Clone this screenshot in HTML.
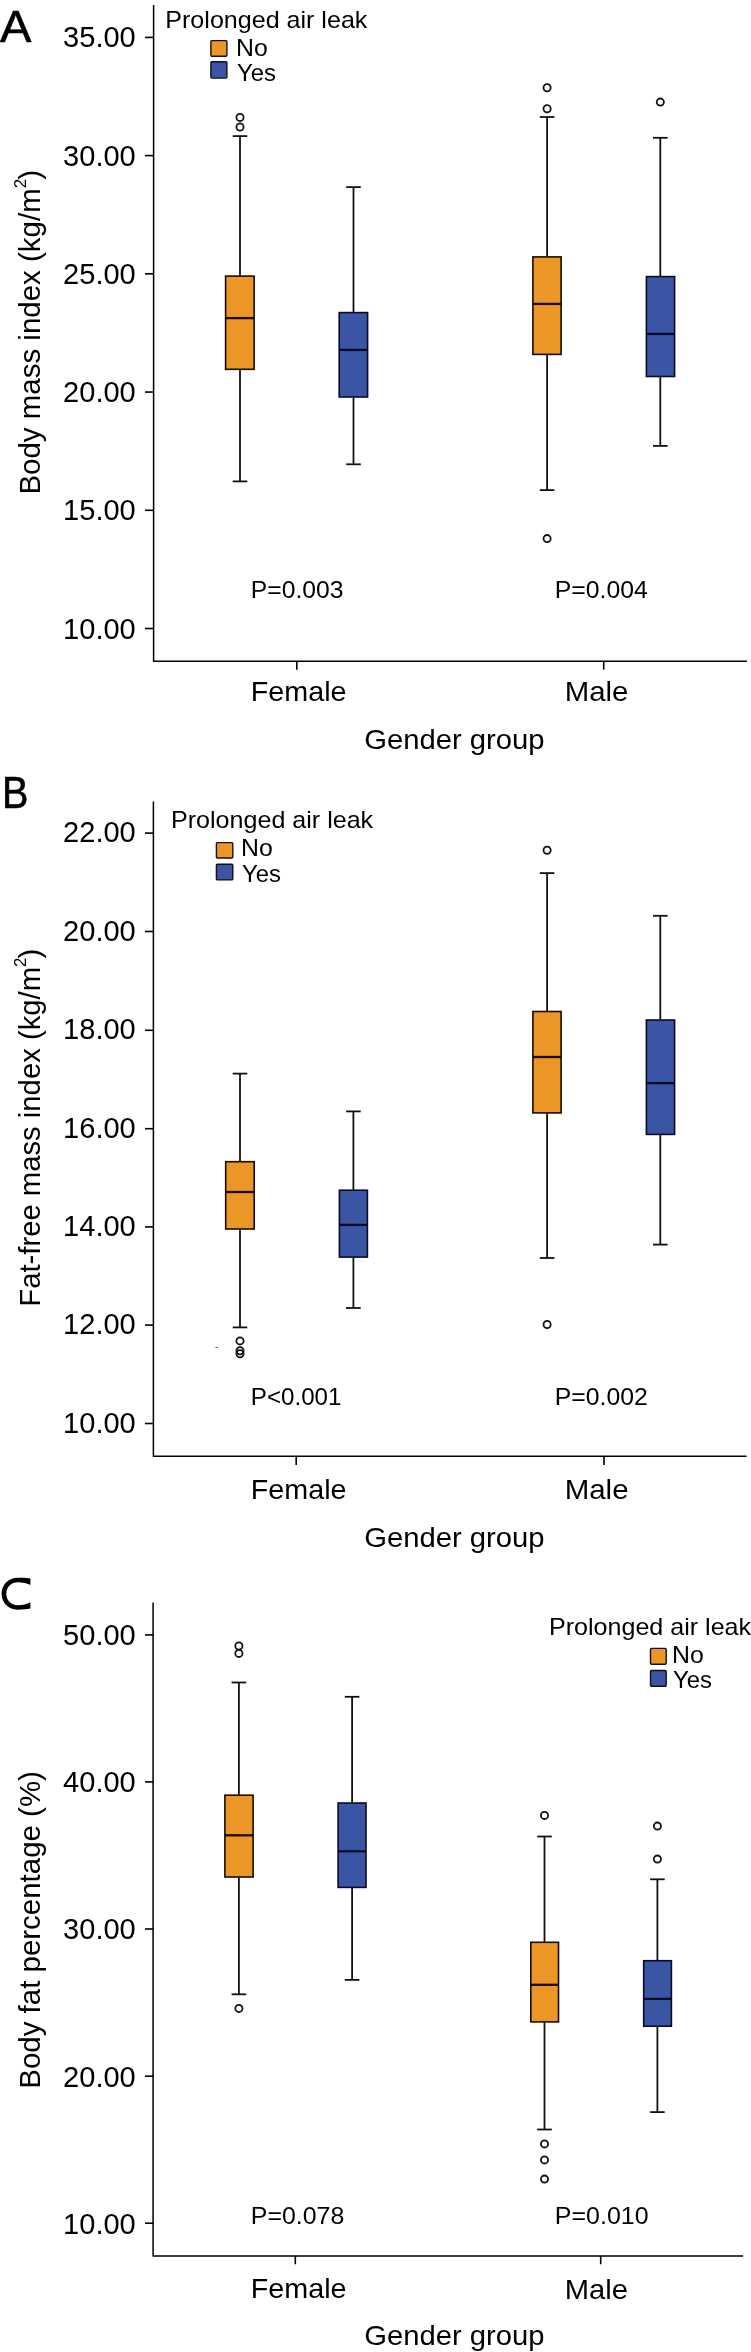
<!DOCTYPE html>
<html><head><meta charset="utf-8"><style>
html,body{margin:0;padding:0;background:#fff;}
body{width:751px;height:2352px;overflow:hidden;}
svg{display:block;will-change:transform;}
text{font-family:"Liberation Sans",sans-serif;fill:#000;}
</style></head><body>
<svg width="751" height="2352" viewBox="0 0 751 2352">
<rect width="751" height="2352" fill="#fff"/>
<polyline points="153.60,5.00 153.60,661.20 746.90,661.20" fill="none" stroke="#000" stroke-width="1.5" stroke-linejoin="round"/>
<line x1="145.00" y1="37.40" x2="153.60" y2="37.40" stroke="#000" stroke-width="1.6"/>
<line x1="145.00" y1="155.60" x2="153.60" y2="155.60" stroke="#000" stroke-width="1.6"/>
<line x1="145.00" y1="273.80" x2="153.60" y2="273.80" stroke="#000" stroke-width="1.6"/>
<line x1="145.00" y1="392.05" x2="153.60" y2="392.05" stroke="#000" stroke-width="1.6"/>
<line x1="145.00" y1="510.30" x2="153.60" y2="510.30" stroke="#000" stroke-width="1.6"/>
<line x1="145.00" y1="628.50" x2="153.60" y2="628.50" stroke="#000" stroke-width="1.6"/>
<line x1="296.80" y1="661.20" x2="296.80" y2="669.70" stroke="#000" stroke-width="1.6"/>
<line x1="603.70" y1="661.20" x2="603.70" y2="669.70" stroke="#000" stroke-width="1.6"/>
<line x1="240.00" y1="136.10" x2="240.00" y2="275.70" stroke="#111" stroke-width="1.8"/>
<line x1="240.00" y1="369.70" x2="240.00" y2="481.40" stroke="#111" stroke-width="1.8"/>
<line x1="232.70" y1="136.10" x2="247.30" y2="136.10" stroke="#111" stroke-width="1.8"/>
<line x1="232.70" y1="481.40" x2="247.30" y2="481.40" stroke="#111" stroke-width="1.8"/>
<rect x="225.60" y="276.10" width="28.50" height="93.20" fill="#EC9628" stroke="#1a0a00" stroke-width="1.6" rx="0"/>
<line x1="225.60" y1="318.10" x2="254.10" y2="318.10" stroke="#1a0a00" stroke-width="2.3"/>
<circle cx="240.00" cy="117.40" r="3.6" fill="none" stroke="#111" stroke-width="1.8"/>
<circle cx="240.00" cy="127.00" r="3.6" fill="none" stroke="#111" stroke-width="1.8"/>
<line x1="353.50" y1="187.10" x2="353.50" y2="312.20" stroke="#111" stroke-width="1.8"/>
<line x1="353.50" y1="397.40" x2="353.50" y2="464.30" stroke="#111" stroke-width="1.8"/>
<line x1="346.20" y1="187.10" x2="360.80" y2="187.10" stroke="#111" stroke-width="1.8"/>
<line x1="346.20" y1="464.30" x2="360.80" y2="464.30" stroke="#111" stroke-width="1.8"/>
<rect x="339.20" y="312.60" width="28.40" height="84.40" fill="#3A55A3" stroke="#0a0a26" stroke-width="1.6" rx="0"/>
<line x1="339.20" y1="349.90" x2="367.60" y2="349.90" stroke="#0a0a26" stroke-width="2.3"/>
<line x1="547.10" y1="117.00" x2="547.10" y2="256.50" stroke="#111" stroke-width="1.8"/>
<line x1="547.10" y1="354.80" x2="547.10" y2="490.10" stroke="#111" stroke-width="1.8"/>
<line x1="539.80" y1="117.00" x2="554.40" y2="117.00" stroke="#111" stroke-width="1.8"/>
<line x1="539.80" y1="490.10" x2="554.40" y2="490.10" stroke="#111" stroke-width="1.8"/>
<rect x="532.90" y="256.90" width="28.20" height="97.50" fill="#EC9628" stroke="#1a0a00" stroke-width="1.6" rx="0"/>
<line x1="532.90" y1="303.90" x2="561.10" y2="303.90" stroke="#1a0a00" stroke-width="2.3"/>
<circle cx="547.10" cy="87.70" r="3.6" fill="none" stroke="#111" stroke-width="1.8"/>
<circle cx="547.10" cy="108.70" r="3.6" fill="none" stroke="#111" stroke-width="1.8"/>
<circle cx="547.10" cy="538.60" r="3.6" fill="none" stroke="#111" stroke-width="1.8"/>
<line x1="660.30" y1="137.80" x2="660.30" y2="276.20" stroke="#111" stroke-width="1.8"/>
<line x1="660.30" y1="376.90" x2="660.30" y2="445.90" stroke="#111" stroke-width="1.8"/>
<line x1="653.00" y1="137.80" x2="667.60" y2="137.80" stroke="#111" stroke-width="1.8"/>
<line x1="653.00" y1="445.90" x2="667.60" y2="445.90" stroke="#111" stroke-width="1.8"/>
<rect x="646.40" y="276.60" width="28.20" height="99.90" fill="#3A55A3" stroke="#0a0a26" stroke-width="1.6" rx="0"/>
<line x1="646.40" y1="333.90" x2="674.60" y2="333.90" stroke="#0a0a26" stroke-width="2.3"/>
<circle cx="660.30" cy="102.10" r="3.6" fill="none" stroke="#111" stroke-width="1.8"/>
<rect x="210.90" y="40.60" width="16.00" height="15.60" fill="#EC9628" stroke="#111" stroke-width="1.4" rx="1"/>
<rect x="210.90" y="61.80" width="16.00" height="16.30" fill="#3A55A3" stroke="#111" stroke-width="1.4" rx="1"/>
<polyline points="153.40,801.40 153.40,1456.30 746.50,1456.30" fill="none" stroke="#000" stroke-width="1.5" stroke-linejoin="round"/>
<line x1="145.00" y1="833.10" x2="153.40" y2="833.10" stroke="#000" stroke-width="1.6"/>
<line x1="145.00" y1="931.50" x2="153.40" y2="931.50" stroke="#000" stroke-width="1.6"/>
<line x1="145.00" y1="1030.30" x2="153.40" y2="1030.30" stroke="#000" stroke-width="1.6"/>
<line x1="145.00" y1="1128.70" x2="153.40" y2="1128.70" stroke="#000" stroke-width="1.6"/>
<line x1="145.00" y1="1226.90" x2="153.40" y2="1226.90" stroke="#000" stroke-width="1.6"/>
<line x1="145.00" y1="1325.10" x2="153.40" y2="1325.10" stroke="#000" stroke-width="1.6"/>
<line x1="145.00" y1="1423.50" x2="153.40" y2="1423.50" stroke="#000" stroke-width="1.6"/>
<line x1="296.20" y1="1456.30" x2="296.20" y2="1465.10" stroke="#000" stroke-width="1.6"/>
<line x1="604.00" y1="1456.30" x2="604.00" y2="1465.10" stroke="#000" stroke-width="1.6"/>
<line x1="240.00" y1="1073.60" x2="240.00" y2="1161.30" stroke="#111" stroke-width="1.8"/>
<line x1="240.00" y1="1229.40" x2="240.00" y2="1327.40" stroke="#111" stroke-width="1.8"/>
<line x1="232.70" y1="1073.60" x2="247.30" y2="1073.60" stroke="#111" stroke-width="1.8"/>
<line x1="232.70" y1="1327.40" x2="247.30" y2="1327.40" stroke="#111" stroke-width="1.8"/>
<rect x="225.70" y="1161.70" width="28.50" height="67.30" fill="#EC9628" stroke="#1a0a00" stroke-width="1.6" rx="0"/>
<line x1="225.70" y1="1192.00" x2="254.20" y2="1192.00" stroke="#1a0a00" stroke-width="2.3"/>
<circle cx="240.00" cy="1340.90" r="3.6" fill="none" stroke="#111" stroke-width="1.8"/>
<circle cx="240.00" cy="1350.80" r="3.6" fill="none" stroke="#111" stroke-width="1.8"/>
<circle cx="240.00" cy="1353.70" r="3.6" fill="none" stroke="#111" stroke-width="1.8"/>
<line x1="353.40" y1="1111.40" x2="353.40" y2="1189.80" stroke="#111" stroke-width="1.8"/>
<line x1="353.40" y1="1257.50" x2="353.40" y2="1308.00" stroke="#111" stroke-width="1.8"/>
<line x1="346.10" y1="1111.40" x2="360.70" y2="1111.40" stroke="#111" stroke-width="1.8"/>
<line x1="346.10" y1="1308.00" x2="360.70" y2="1308.00" stroke="#111" stroke-width="1.8"/>
<rect x="339.40" y="1190.20" width="28.00" height="66.90" fill="#3A55A3" stroke="#0a0a26" stroke-width="1.6" rx="0"/>
<line x1="339.40" y1="1224.90" x2="367.40" y2="1224.90" stroke="#0a0a26" stroke-width="2.3"/>
<line x1="547.10" y1="873.10" x2="547.10" y2="1011.10" stroke="#111" stroke-width="1.8"/>
<line x1="547.10" y1="1113.30" x2="547.10" y2="1258.00" stroke="#111" stroke-width="1.8"/>
<line x1="539.80" y1="873.10" x2="554.40" y2="873.10" stroke="#111" stroke-width="1.8"/>
<line x1="539.80" y1="1258.00" x2="554.40" y2="1258.00" stroke="#111" stroke-width="1.8"/>
<rect x="532.90" y="1011.50" width="28.20" height="101.40" fill="#EC9628" stroke="#1a0a00" stroke-width="1.6" rx="0"/>
<line x1="532.90" y1="1057.00" x2="561.10" y2="1057.00" stroke="#1a0a00" stroke-width="2.3"/>
<circle cx="547.10" cy="850.20" r="3.6" fill="none" stroke="#111" stroke-width="1.8"/>
<circle cx="547.10" cy="1324.50" r="3.6" fill="none" stroke="#111" stroke-width="1.8"/>
<line x1="660.30" y1="915.80" x2="660.30" y2="1019.60" stroke="#111" stroke-width="1.8"/>
<line x1="660.30" y1="1134.80" x2="660.30" y2="1244.60" stroke="#111" stroke-width="1.8"/>
<line x1="653.00" y1="915.80" x2="667.60" y2="915.80" stroke="#111" stroke-width="1.8"/>
<line x1="653.00" y1="1244.60" x2="667.60" y2="1244.60" stroke="#111" stroke-width="1.8"/>
<rect x="646.40" y="1020.00" width="28.20" height="114.40" fill="#3A55A3" stroke="#0a0a26" stroke-width="1.6" rx="0"/>
<line x1="646.40" y1="1083.10" x2="674.60" y2="1083.10" stroke="#0a0a26" stroke-width="2.3"/>
<rect x="216.40" y="842.60" width="16.40" height="15.40" fill="#EC9628" stroke="#111" stroke-width="1.4" rx="1"/>
<rect x="216.40" y="864.20" width="16.40" height="15.70" fill="#3A55A3" stroke="#111" stroke-width="1.4" rx="1"/>
<line x1="215.4" y1="1347.4" x2="218" y2="1347.4" stroke="#666" stroke-width="1"/>
<path d="M30.4 1578.6 C27 1577.6 22 1577.8 17.6 1577.8 C8.5 1577.8 1.6 1584.7 1.6 1593.8 C1.6 1602.8 8.5 1609.7 17.6 1609.7 C22 1609.7 27 1609.3 30.4 1608.6 L30.4 1602.3 C27 1604.2 22 1605.2 17.8 1605.2 C11 1605.2 6.3 1600.3 6.3 1593.8 C6.3 1587.2 11 1582.3 17.8 1582.3 C22 1582.3 27 1583.3 30.4 1585 Z" fill="#000"/>
<polyline points="153.10,1602.60 153.10,2256.00 743.10,2256.00" fill="none" stroke="#000" stroke-width="1.5" stroke-linejoin="round"/>
<line x1="145.00" y1="1634.90" x2="153.10" y2="1634.90" stroke="#000" stroke-width="1.6"/>
<line x1="145.00" y1="1781.90" x2="153.10" y2="1781.90" stroke="#000" stroke-width="1.6"/>
<line x1="145.00" y1="1929.00" x2="153.10" y2="1929.00" stroke="#000" stroke-width="1.6"/>
<line x1="145.00" y1="2076.20" x2="153.10" y2="2076.20" stroke="#000" stroke-width="1.6"/>
<line x1="145.00" y1="2223.20" x2="153.10" y2="2223.20" stroke="#000" stroke-width="1.6"/>
<line x1="295.30" y1="2256.00" x2="295.30" y2="2264.30" stroke="#000" stroke-width="1.6"/>
<line x1="600.70" y1="2256.00" x2="600.70" y2="2264.30" stroke="#000" stroke-width="1.6"/>
<line x1="238.90" y1="1682.50" x2="238.90" y2="1794.80" stroke="#111" stroke-width="1.8"/>
<line x1="238.90" y1="1877.40" x2="238.90" y2="1994.30" stroke="#111" stroke-width="1.8"/>
<line x1="231.60" y1="1682.50" x2="246.20" y2="1682.50" stroke="#111" stroke-width="1.8"/>
<line x1="231.60" y1="1994.30" x2="246.20" y2="1994.30" stroke="#111" stroke-width="1.8"/>
<rect x="224.90" y="1795.20" width="28.20" height="81.80" fill="#EC9628" stroke="#1a0a00" stroke-width="1.6" rx="0"/>
<line x1="224.90" y1="1835.30" x2="253.10" y2="1835.30" stroke="#1a0a00" stroke-width="2.3"/>
<circle cx="238.90" cy="1646.00" r="3.6" fill="none" stroke="#111" stroke-width="1.8"/>
<circle cx="238.90" cy="1653.40" r="3.6" fill="none" stroke="#111" stroke-width="1.8"/>
<circle cx="238.90" cy="2008.40" r="3.6" fill="none" stroke="#111" stroke-width="1.8"/>
<line x1="352.10" y1="1696.80" x2="352.10" y2="1802.60" stroke="#111" stroke-width="1.8"/>
<line x1="352.10" y1="1887.80" x2="352.10" y2="1979.90" stroke="#111" stroke-width="1.8"/>
<line x1="344.80" y1="1696.80" x2="359.40" y2="1696.80" stroke="#111" stroke-width="1.8"/>
<line x1="344.80" y1="1979.90" x2="359.40" y2="1979.90" stroke="#111" stroke-width="1.8"/>
<rect x="338.10" y="1803.00" width="27.90" height="84.40" fill="#3A55A3" stroke="#0a0a26" stroke-width="1.6" rx="0"/>
<line x1="338.10" y1="1851.30" x2="366.00" y2="1851.30" stroke="#0a0a26" stroke-width="2.3"/>
<line x1="544.50" y1="1836.50" x2="544.50" y2="1941.90" stroke="#111" stroke-width="1.8"/>
<line x1="544.50" y1="2022.30" x2="544.50" y2="2129.50" stroke="#111" stroke-width="1.8"/>
<line x1="537.20" y1="1836.50" x2="551.80" y2="1836.50" stroke="#111" stroke-width="1.8"/>
<line x1="537.20" y1="2129.50" x2="551.80" y2="2129.50" stroke="#111" stroke-width="1.8"/>
<rect x="530.80" y="1942.30" width="27.70" height="79.60" fill="#EC9628" stroke="#1a0a00" stroke-width="1.6" rx="0"/>
<line x1="530.80" y1="1984.80" x2="558.50" y2="1984.80" stroke="#1a0a00" stroke-width="2.3"/>
<circle cx="544.50" cy="1815.40" r="3.6" fill="none" stroke="#111" stroke-width="1.8"/>
<circle cx="544.50" cy="2143.90" r="3.6" fill="none" stroke="#111" stroke-width="1.8"/>
<circle cx="544.50" cy="2159.90" r="3.6" fill="none" stroke="#111" stroke-width="1.8"/>
<circle cx="544.50" cy="2179.10" r="3.6" fill="none" stroke="#111" stroke-width="1.8"/>
<line x1="657.40" y1="1879.30" x2="657.40" y2="1960.30" stroke="#111" stroke-width="1.8"/>
<line x1="657.40" y1="2026.60" x2="657.40" y2="2112.10" stroke="#111" stroke-width="1.8"/>
<line x1="650.10" y1="1879.30" x2="664.70" y2="1879.30" stroke="#111" stroke-width="1.8"/>
<line x1="650.10" y1="2112.10" x2="664.70" y2="2112.10" stroke="#111" stroke-width="1.8"/>
<rect x="643.70" y="1960.70" width="27.70" height="65.50" fill="#3A55A3" stroke="#0a0a26" stroke-width="1.6" rx="0"/>
<line x1="643.70" y1="1998.90" x2="671.40" y2="1998.90" stroke="#0a0a26" stroke-width="2.3"/>
<circle cx="657.40" cy="1826.10" r="3.6" fill="none" stroke="#111" stroke-width="1.8"/>
<circle cx="657.40" cy="1859.10" r="3.6" fill="none" stroke="#111" stroke-width="1.8"/>
<rect x="650.50" y="1648.40" width="15.70" height="15.90" fill="#EC9628" stroke="#111" stroke-width="1.4" rx="1"/>
<rect x="650.50" y="1670.50" width="15.70" height="15.80" fill="#3A55A3" stroke="#111" stroke-width="1.4" rx="1"/>
<text x="0.00" y="41.80" font-size="44.14" textLength="31.41" lengthAdjust="spacingAndGlyphs" stroke="#000" stroke-width="0.6">A</text>
<text x="63.10" y="47.40" font-size="30.4" textLength="72.64" lengthAdjust="spacingAndGlyphs">35.00</text>
<text x="63.10" y="165.60" font-size="30.4" textLength="72.64" lengthAdjust="spacingAndGlyphs">30.00</text>
<text x="63.10" y="283.80" font-size="30.4" textLength="72.64" lengthAdjust="spacingAndGlyphs">25.00</text>
<text x="63.10" y="402.05" font-size="30.4" textLength="72.64" lengthAdjust="spacingAndGlyphs">20.00</text>
<text x="63.10" y="520.30" font-size="30.4" textLength="72.64" lengthAdjust="spacingAndGlyphs">15.00</text>
<text x="63.10" y="638.50" font-size="30.4" textLength="72.64" lengthAdjust="spacingAndGlyphs">10.00</text>
<text x="165.30" y="28.00" font-size="24" textLength="202.06" lengthAdjust="spacingAndGlyphs">Prolonged air leak</text>
<text x="236.10" y="55.60" font-size="24" textLength="31.78" lengthAdjust="spacingAndGlyphs">No</text>
<text x="237.10" y="80.60" font-size="24" textLength="38.94" lengthAdjust="spacingAndGlyphs">Yes</text>
<text x="250.80" y="597.90" font-size="24" textLength="92.68" lengthAdjust="spacingAndGlyphs">P=0.003</text>
<text x="554.80" y="597.90" font-size="24" textLength="93.1" lengthAdjust="spacingAndGlyphs">P=0.004</text>
<text x="250.80" y="701.20" font-size="28.5" textLength="95.77" lengthAdjust="spacingAndGlyphs">Female</text>
<text x="564.80" y="701.20" font-size="28.5" textLength="63.67" lengthAdjust="spacingAndGlyphs">Male</text>
<text x="364.20" y="748.50" font-size="28.5" textLength="180.32" lengthAdjust="spacingAndGlyphs">Gender group</text>
<text x="0" y="0" transform="translate(39.90,494.60) rotate(-90)" font-size="29.5" textLength="324.77" lengthAdjust="spacingAndGlyphs">Body mass index (kg/m<tspan font-size="17" dx="0" dy="-14">2</tspan><tspan dx="-0.8" dy="14">)</tspan></text>
<text x="2.00" y="807.80" font-size="44.43" textLength="26.44" lengthAdjust="spacingAndGlyphs" stroke="#000" stroke-width="0.6">B</text>
<text x="63.10" y="842.20" font-size="30.4" textLength="72.64" lengthAdjust="spacingAndGlyphs">22.00</text>
<text x="63.10" y="940.60" font-size="30.4" textLength="72.64" lengthAdjust="spacingAndGlyphs">20.00</text>
<text x="63.10" y="1039.40" font-size="30.4" textLength="72.64" lengthAdjust="spacingAndGlyphs">18.00</text>
<text x="63.10" y="1137.80" font-size="30.4" textLength="72.64" lengthAdjust="spacingAndGlyphs">16.00</text>
<text x="63.10" y="1236.00" font-size="30.4" textLength="72.64" lengthAdjust="spacingAndGlyphs">14.00</text>
<text x="63.10" y="1334.20" font-size="30.4" textLength="72.64" lengthAdjust="spacingAndGlyphs">12.00</text>
<text x="63.10" y="1432.60" font-size="30.4" textLength="72.64" lengthAdjust="spacingAndGlyphs">10.00</text>
<text x="171.00" y="828.00" font-size="24" textLength="202.16" lengthAdjust="spacingAndGlyphs">Prolonged air leak</text>
<text x="241.10" y="856.20" font-size="24" textLength="31.78" lengthAdjust="spacingAndGlyphs">No</text>
<text x="242.10" y="882.00" font-size="24" textLength="38.94" lengthAdjust="spacingAndGlyphs">Yes</text>
<text x="250.80" y="1405.00" font-size="24" textLength="90.72" lengthAdjust="spacingAndGlyphs">P&lt;0.001</text>
<text x="554.80" y="1405.00" font-size="24" textLength="93.1" lengthAdjust="spacingAndGlyphs">P=0.002</text>
<text x="250.80" y="1499.10" font-size="28.5" textLength="95.77" lengthAdjust="spacingAndGlyphs">Female</text>
<text x="564.70" y="1499.30" font-size="28.5" textLength="63.88" lengthAdjust="spacingAndGlyphs">Male</text>
<text x="364.20" y="1547.00" font-size="28.5" textLength="180.32" lengthAdjust="spacingAndGlyphs">Gender group</text>
<text x="0" y="0" transform="translate(39.90,1306.70) rotate(-90)" font-size="29.5" textLength="358.07" lengthAdjust="spacingAndGlyphs">Fat-free mass index (kg/m<tspan font-size="17" dx="0" dy="-14">2</tspan><tspan dx="-0.8" dy="14">)</tspan></text>
<text x="63.10" y="1645.30" font-size="30.4" textLength="72.64" lengthAdjust="spacingAndGlyphs">50.00</text>
<text x="63.10" y="1792.30" font-size="30.4" textLength="72.64" lengthAdjust="spacingAndGlyphs">40.00</text>
<text x="63.10" y="1939.40" font-size="30.4" textLength="72.64" lengthAdjust="spacingAndGlyphs">30.00</text>
<text x="63.10" y="2086.60" font-size="30.4" textLength="72.64" lengthAdjust="spacingAndGlyphs">20.00</text>
<text x="63.10" y="2233.60" font-size="30.4" textLength="72.64" lengthAdjust="spacingAndGlyphs">10.00</text>
<text x="549.00" y="1635.20" font-size="24" textLength="202.06" lengthAdjust="spacingAndGlyphs">Prolonged air leak</text>
<text x="672.10" y="1662.90" font-size="24" textLength="31.78" lengthAdjust="spacingAndGlyphs">No</text>
<text x="673.10" y="1687.90" font-size="24" textLength="38.94" lengthAdjust="spacingAndGlyphs">Yes</text>
<text x="250.80" y="2223.70" font-size="24" textLength="93.51" lengthAdjust="spacingAndGlyphs">P=0.078</text>
<text x="554.80" y="2223.70" font-size="24" textLength="93.82" lengthAdjust="spacingAndGlyphs">P=0.010</text>
<text x="250.80" y="2298.40" font-size="28.5" textLength="95.77" lengthAdjust="spacingAndGlyphs">Female</text>
<text x="564.70" y="2298.80" font-size="28.5" textLength="63.25" lengthAdjust="spacingAndGlyphs">Male</text>
<text x="364.20" y="2345.20" font-size="28.5" textLength="180.32" lengthAdjust="spacingAndGlyphs">Gender group</text>
<text x="0" y="0" transform="translate(39.90,2088.70) rotate(-90)" font-size="29.5" textLength="317.62" lengthAdjust="spacingAndGlyphs">Body fat percentage (%)</text>
</svg>
</body></html>
